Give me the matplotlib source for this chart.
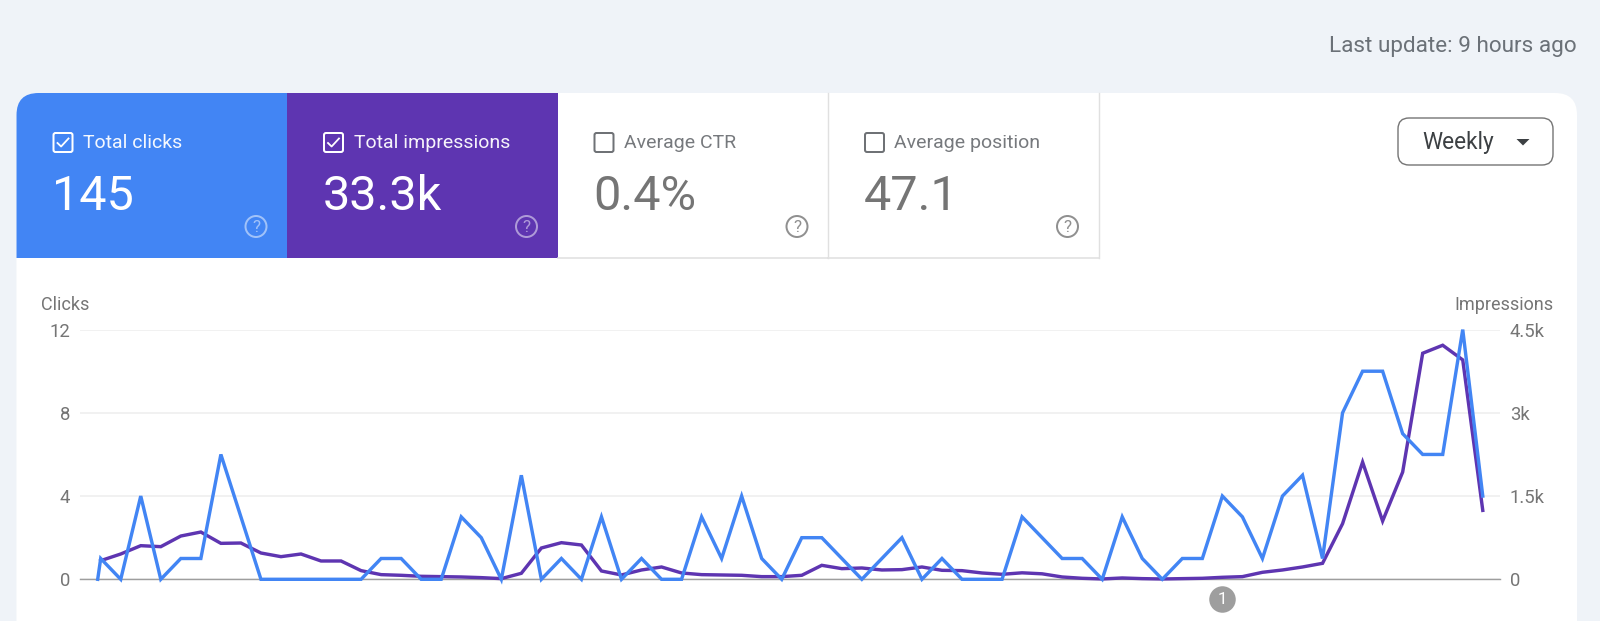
import matplotlib
matplotlib.use("Agg")
import matplotlib.pyplot as plt
from matplotlib.patches import Rectangle, FancyBboxPatch, Circle, Polygon, PathPatch
from matplotlib.path import Path
from matplotlib.lines import Line2D
from matplotlib.transforms import blended_transform_factory

plt.rcParams['font.family'] = ['Roboto', 'DejaVu Sans']

# ---- data ----
clicks_x = [-0.15] + list(range(70))
clicks = [0, 1, 0, 4, 0, 1, 1, 6, 3, 0, 0, 0, 0, 0, 0, 1, 1, 0, 0, 3, 2, 0, 5, 0, 1,
          0, 3, 0, 1, 0, 0, 3, 1, 4, 1, 0, 2, 2, 1, 0, 1, 2, 0, 1, 0, 0, 0, 3, 2, 1,
          1, 0, 3, 1, 0, 1, 1, 4, 3, 1, 4, 5, 1, 8, 10, 10, 7, 6, 6, 12, 4]
impressions_x = list(range(70))
impressions = [336, 456, 606, 588, 780, 852, 648, 654, 474, 408, 456, 330, 330, 156, 84,
               72, 54, 48, 42, 30, 12, 108, 564, 660, 618, 150, 78, 168, 222, 114, 84,
               78, 72, 48, 48, 72, 252, 192, 204, 168, 174, 222, 162, 156, 114, 90, 117,
               99, 42, 18, 6, 24, 12, 6, 12, 18, 36, 48, 126, 168, 222, 288, 1002, 2112,
               1050, 1932, 4074, 4218, 3954, 1242]
clicks_ticks = [0, 4, 8, 12]
clicks_ticklabels = ['0', '4', '8', '12']
impr_ticks = [0, 1500, 3000, 4500]
impr_ticklabels = ['0', '1.5k', '3k', '4.5k']
annotation_week = [56]
annotation_labels = ['1']
tiles = [('Total clicks', '145', True), ('Total impressions', '33.3k', True),
         ('Average CTR', '0.4%', False), ('Average position', '47.1', False)]

# ---- colours ----
BG = '#eff3f8'
BLUE = '#4285f4'
PURPLE = '#5e35b1'
GREY = '#757575'
TILE_FILL = [BLUE, PURPLE, 'white', 'white']

W, H = 1600, 621
fig = plt.figure(figsize=(W / 100, H / 100), dpi=100, facecolor=BG)
px = 0.72  # points per pixel

# page chrome in pixel coordinates
bg = fig.add_axes([0, 0, 1, 1], zorder=0)
bg.set_xlim(0, W)
bg.set_ylim(H, 0)
bg.axis('off')

L, R, T, RAD = 16.5, 1577, 93, 22
card = Path([(L, H + 5), (L, T + RAD), (L, T), (L + RAD, T), (R - RAD, T), (R, T), (R, T + RAD), (R, H + 5), (L, H + 5)],
            [Path.MOVETO, Path.LINETO, Path.CURVE3, Path.CURVE3, Path.LINETO, Path.CURVE3, Path.CURVE3, Path.LINETO, Path.CLOSEPOLY])
bg.add_patch(PathPatch(card, fc='white', ec='none'))

TW, TB = 270.5, 258
for i, (label, value, checked) in enumerate(tiles):
    x0 = L + i * TW
    fill = TILE_FILL[i]
    if i == 0:
        p = Path([(x0, TB), (x0, T + RAD), (x0, T), (x0 + RAD, T), (x0 + TW, T), (x0 + TW, TB), (x0, TB)],
                 [Path.MOVETO, Path.LINETO, Path.CURVE3, Path.CURVE3, Path.LINETO, Path.LINETO, Path.CLOSEPOLY])
        bg.add_patch(PathPatch(p, fc=fill, ec='none'))
    elif i == 1:
        bg.add_patch(Rectangle((x0, T), TW, TB - T, fc=fill, ec='none'))
    else:
        bg.add_line(Line2D([x0 + TW, x0 + TW], [T, TB], color='#e0e0e0', lw=1.4 * px))
        bg.add_line(Line2D([x0, x0 + TW], [TB, TB], color='#e0e0e0', lw=1.6 * px))
    fg = 'white' if checked else '#6f7276'
    vc = 'white' if checked else '#757575'
    bx, by, bs = x0 + 36, 132, 21
    bg.add_patch(FancyBboxPatch((bx + 1, by + 1), bs - 2, bs - 2, boxstyle='round,pad=0,rounding_size=2',
                                fc='none', ec=fg, lw=2 * px))
    if checked:
        bg.add_line(Line2D([bx + 5, bx + 8.6, bx + 16], [by + 11, by + 14.5, by + 6.5], color='white', lw=1.8 * px))
    bg.text(x0 + 66.5, 143, label, color=fg, fontsize=19.5 * px, va='center', ha='left', alpha=0.95)
    bg.text(x0 + 36, 210, value, color=vc, fontsize=48.6 * px, va='baseline', ha='left')
    hx, hy = x0 + 239.5, 226.5
    hc = 'white' if checked else '#757575'
    ha_ = 0.5 if checked else 0.8
    bg.add_patch(Circle((hx, hy), 10.5, fc='none', ec=hc, lw=2 * px, alpha=ha_))
    bg.text(hx, hy + 0.5, '?', color=hc, fontsize=17 * px, va='center', ha='center', alpha=ha_)

bg.text(1577, 46.5, 'Last update: 9 hours ago', color='#6b7178', fontsize=22.5 * px, ha='right', va='center')
bg.add_patch(FancyBboxPatch((1398, 118), 155, 47, boxstyle='round,pad=0,rounding_size=11',
                            fc='white', ec='#757575', lw=1.4 * px))
bg.text(1422.5, 142.5, 'Weekly', color='#3c4043', fontsize=22.6 * px, ha='left', va='center')
bg.add_patch(Polygon([(1516.5, 139), (1529.5, 139), (1523, 145.5)], fc='#3c4043', ec='none'))

# chart axes
AL, AR, AT, AB = 80, 1500, 329.6, 579.3
rect = [AL / W, 1 - AB / H, (AR - AL) / W, (AB - AT) / H]
ax = fig.add_axes(rect, zorder=3)
ax.patch.set_visible(False)
x0_px, step = 100.7, 20.03
ax.set_xlim((AL - x0_px) / step, (AR - x0_px) / step)
ax.set_ylim(0, 12)
ax.set_xticks([])
ax.set_yticks(clicks_ticks, clicks_ticklabels)
ax.tick_params(axis='y', length=0, pad=7, labelsize=18.5 * px, labelcolor=GREY)
for s in ax.spines.values():
    s.set_visible(False)

ax2 = fig.add_axes(rect, zorder=2)
ax2.patch.set_visible(False)
ax2.set_xlim(ax.get_xlim())
ax2.set_ylim(0, 4500)
ax2.set_xticks([])
ax2.yaxis.tick_right()
ax2.set_yticks(impr_ticks, impr_ticklabels)
ax2.tick_params(axis='y', length=0, pad=7, labelsize=18.5 * px, labelcolor=GREY)
for s in ax2.spines.values():
    s.set_visible(False)
ax2.grid(axis='y', color='#eeeeee', lw=1.6 * px, zorder=0)
ax2.set_axisbelow(True)
ax2.axhline(0, color='#9e9e9e', lw=1.4 * px, zorder=1, clip_on=False)

ax2.plot(impressions_x, impressions, color=PURPLE, lw=3.4 * px, solid_joinstyle='miter', clip_on=False, zorder=3)
ax.plot(clicks_x, clicks, color=BLUE, lw=3.4 * px, solid_joinstyle='miter', clip_on=False, zorder=4)

ax.text(-39 / (AR - AL), 1.1, 'Clicks', transform=ax.transAxes, color=GREY, fontsize=18 * px, ha='left', va='center')
ax.text(1 + 54 / (AR - AL), 1.1, 'Impressions', transform=ax.transAxes, color=GREY, fontsize=18 * px, ha='right', va='center')

# annotation marker below the axis
tr = blended_transform_factory(ax.transData, ax.transAxes)
for wk, lab in zip(annotation_week, annotation_labels):
    y_ax = -(599 - AB) / (AB - AT)
    ax.plot([wk], [y_ax], transform=tr, marker='o', ms=26.5 * px, color='#9e9e9e', mec='none', clip_on=False, zorder=5)
    ax.text(wk, y_ax, lab, transform=tr, color='white', fontsize=17 * px, ha='center', va='center', zorder=6)

fig.savefig('out.png', dpi=100, facecolor=BG)
